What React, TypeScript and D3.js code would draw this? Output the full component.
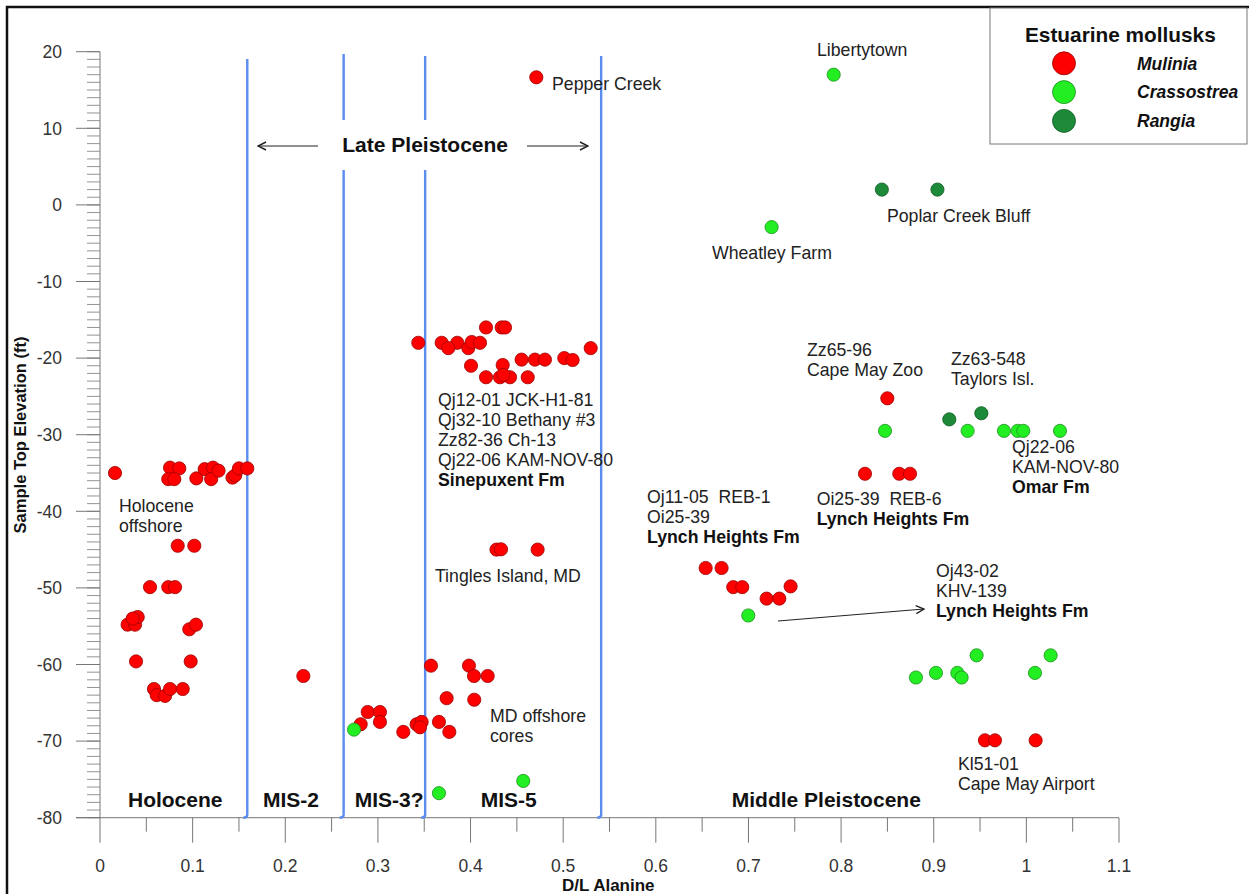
import * as d3 from "d3";

// D/L alanine vs sample top elevation (ft)
const MULINIA: [number, number][] = [
  [0.471, 16.66],
  // Holocene offshore
  [0.0162, -35.0], [0.0756, -34.3], [0.0856, -34.4], [0.0737, -35.8], [0.0802, -35.8],
  [0.104, -35.7], [0.113, -34.5], [0.122, -34.3], [0.12, -35.8], [0.128, -34.7],
  [0.143, -35.6], [0.146, -35.3], [0.15, -34.4], [0.159, -34.4],
  [0.0839, -44.5], [0.1018, -44.5], [0.054, -49.9], [0.0737, -49.9], [0.081, -49.9],
  [0.0298, -54.8], [0.0378, -54.8], [0.0407, -53.8], [0.0353, -54.0], [0.0964, -55.4],
  [0.1036, -54.8], [0.0389, -59.6], [0.0979, -59.6], [0.0583, -63.2], [0.0612, -64.0],
  [0.0702, -64.1], [0.0756, -63.2], [0.0893, -63.2],
  // MIS-2 / MD offshore cores
  [0.2195, -61.5],
  [0.3573, -60.15], [0.3983, -60.15], [0.4037, -61.5], [0.4185, -61.5], [0.3742, -64.4],
  [0.404, -64.6], [0.289, -66.2], [0.3022, -66.2], [0.3022, -67.5], [0.2814, -67.8],
  [0.3274, -68.8], [0.3418, -67.8], [0.3472, -67.5], [0.3454, -68.2], [0.3659, -67.5],
  [0.3771, -68.8],
  // Sinepuxent Fm
  [0.3436, -18.0], [0.3688, -18.0], [0.3857, -18.0], [0.376, -18.7], [0.3976, -18.7],
  [0.4012, -17.9], [0.4102, -18.0], [0.4167, -16.0], [0.4336, -16.0], [0.4372, -16.0],
  [0.4005, -21.0], [0.4347, -20.9], [0.4167, -22.5], [0.4318, -22.5], [0.4426, -22.5],
  [0.4354, -22.2], [0.4617, -22.5], [0.4551, -20.2], [0.4695, -20.2], [0.4803, -20.2],
  [0.5012, -20.0], [0.5102, -20.25], [0.5297, -18.7],
  // Tingles Island
  [0.428, -45.0], [0.4329, -44.96], [0.4724, -45.0],
  // Middle Pleistocene
  [0.6538, -47.4], [0.671, -47.4], [0.6836, -49.9], [0.6933, -49.9], [0.7455, -49.8],
  [0.7196, -51.4], [0.7333, -51.4], [0.9553, -69.9], [0.9661, -69.9], [1.01, -69.9],
  [0.8499, -25.25], [0.8258, -35.1], [0.8628, -35.1], [0.8744, -35.1],
];

const CRASSOSTREA: [number, number][] = [
  [0.792, 17.0], [0.725, -2.9], [0.2742, -68.5], [0.3659, -76.8], [0.4569, -75.2],
  [0.6998, -53.6], [0.9463, -58.8], [1.0262, -58.8], [0.8808, -61.7], [0.9024, -61.1],
  [0.9255, -61.1], [0.9301, -61.7], [1.0093, -61.1], [0.8474, -29.5], [0.9366, -29.5],
  [0.9758, -29.5], [0.9906, -29.5], [0.9967, -29.5], [1.0363, -29.5],
];

const RANGIA: [number, number][] = [
  [0.844, 2.0], [0.904, 2.0], [0.9168, -28.0], [0.9514, -27.2],
];

const X_TICKS = [0, 0.1, 0.2, 0.3, 0.4, 0.5, 0.6, 0.7, 0.8, 0.9, 1, 1.1];
const Y_TICKS = [20, 10, 0, -10, -20, -30, -40, -50, -60, -70, -80];

// stage boundaries: [D/L value, top elevation, gap start, gap end]
const BOUNDARIES: [number, number, number | null, number | null][] = [
  [0.159, 19.05, null, null],
  [0.263, 19.7, 11.07, 4.55],
  [0.351, 19.45, 11.07, 4.55],
  [0.541, 19.45, null, null],
];

const NB = "\u00a0\u00a0";

// annotations: [x, y, lines, bold last line]
const NOTES: [number, number, string[], boolean][] = [
  [0.488, 15.0, ["Pepper Creek"], false],
  [0.774, 19.44, ["Libertytown"], false],
  [0.8495, -2.23, ["Poplar Creek Bluff"], false],
  [0.6606, -7.07, ["Wheatley Farm"], false],
  [0.7632, -19.73, ["Zz65-96", "Cape May Zoo"], false],
  [0.9186, -20.9, ["Zz63-548", "Taylors Isl."], false],
  [0.9845, -32.4, ["Qj22-06", "KAM-NOV-80", "Omar Fm"], true],
  [0.7736, -39.2, ["Oi25-39" + NB + "REB-6", "Lynch Heights Fm"], true],
  [0.5905, -38.9, ["Oj11-05" + NB + "REB-1", "Oi25-39", "Lynch Heights Fm"], true],
  [0.3649, -26.2, ["Qj12-01 JCK-H1-81", "Qj32-10 Bethany #3", "Zz82-36 Ch-13", "Qj22-06 KAM-NOV-80", "Sinepuxent Fm"], true],
  [0.3616, -49.2, ["Tingles Island, MD"], false],
  [0.0205, -40.1, ["Holocene", "offshore"], false],
  [0.421, -67.5, ["MD offshore", "cores"], false],
  [0.9024, -48.6, ["Oj43-02", "KHV-139", "Lynch Heights Fm"], true],
  [0.9262, -73.8, ["Kl51-01", "Cape May Airport"], false],
];

const STAGES: [number, string][] = [
  [0.0302, "Holocene"],
  [0.176, "MIS-2"],
  [0.275, "MIS-3?"],
  [0.411, "MIS-5"],
  [0.682, "Middle Pleistocene"],
];

const LEGEND: [string, string, string][] = [
  ["Mulinia", "#ff0000", "#9a0000"],
  ["Crassostrea", "#22ee22", "#1f8f1f"],
  ["Rangia", "#1d8a3a", "#0f5a22"],
];

const FONT = "'Liberation Sans', Arial, sans-serif";
const W = 1249;
const H = 894;

export default function App() {
  const x = d3.scaleLinear().domain([0, 1.1]).range([100, 1119]);
  const y = d3.scaleLinear().domain([20, -80]).range([51.7, 817.7]);
  const minorY = d3.range(-80, 21, 1);
  const minorX = d3.range(0.05, 1.1, 0.1);
  const blue = "#5b8def";

  const dot = (pts: [number, number][], fill: string, stroke: string) =>
    pts.map((p, i) => (
      <circle key={fill + i} cx={x(p[0])} cy={y(p[1])} r={6.6} fill={fill} stroke={stroke} strokeWidth={0.8} />
    ));

  return (
    <div style={{ position: "absolute", left: 0, top: 0 }}>
      <svg width={W} height={H} style={{ display: "block", background: "#fff" }} fontFamily={FONT}>
        <defs>
          <marker id="head" viewBox="0 0 10 10" refX="9" refY="5" markerWidth="10" markerHeight="10" orient="auto-start-reverse" markerUnits="userSpaceOnUse">
            <path d="M1,1 L9,5 L1,9" fill="none" stroke="#222" strokeWidth={1.4} />
          </marker>
        </defs>
        <rect x={7} y={7} width={W + 20} height={H + 20} fill="none" stroke="#111" strokeWidth={2.5} />

        {/* y axis */}
        <line x1={100} x2={100} y1={y(20)} y2={y(-80)} stroke="#777" strokeWidth={1} />
        {minorY.map((v) => (
          <line key={"my" + v} x1={87} x2={100} y1={y(v)} y2={y(v)} stroke="#888" strokeWidth={0.9} />
        ))}
        {Y_TICKS.map((v) => (
          <g key={"y" + v}>
            <line x1={76} x2={100} y1={y(v)} y2={y(v)} stroke="#777" strokeWidth={1} />
            <text x={62} y={y(v)} dy="0.36em" textAnchor="end" fontSize={17.5} fill="#333">
              {v}
            </text>
          </g>
        ))}

        {/* x axis */}
        <line x1={76} x2={x(1.1)} y1={y(-80)} y2={y(-80)} stroke="#777" strokeWidth={1} />
        {minorX.map((v) => (
          <line key={"mx" + v} x1={x(v)} x2={x(v)} y1={y(-80)} y2={y(-80) + 14} stroke="#777" strokeWidth={1} />
        ))}
        {X_TICKS.map((v) => (
          <g key={"x" + v}>
            <line x1={x(v)} x2={x(v)} y1={y(-80)} y2={y(-80) + 25} stroke="#777" strokeWidth={1} />
            <text x={x(v)} y={872} textAnchor="middle" fontSize={17.5} fill="#333">
              {String(v)}
            </text>
          </g>
        ))}

        <text x={562} y={891} fontSize={17} fontWeight="bold" fill="#111">
          D/L Alanine
        </text>
        <text transform={`translate(26,435) rotate(-90)`} textAnchor="middle" fontSize={16.5} fontWeight="bold" fill="#111">
          Sample Top Elevation (ft)
        </text>

        {/* stage boundaries */}
        {BOUNDARIES.map(([bx, top, g0, g1], i) => {
          const px = x(bx);
          const bottom = y(-80);
          const d =
            g0 === null || g1 === null
              ? `M${px},${y(top)} L${px},${bottom - 3} Q${px},${bottom} ${px - 4},${bottom}`
              : `M${px},${y(top)} L${px},${y(g0)} M${px},${y(g1)} L${px},${bottom - 3} Q${px},${bottom} ${px - 4},${bottom}`;
          return <path key={"b" + i} d={d} fill="none" stroke={blue} strokeWidth={2.4} />;
        })}

        <text x={x(0.351)} y={y(6.9)} textAnchor="middle" fontSize={21} fontWeight="bold" fill="#111">
          Late Pleistocene
        </text>
        <line x1={318} x2={258} y1={146} y2={146} stroke="#222" strokeWidth={1} markerEnd="url(#head)" />
        <line x1={527} x2={588} y1={146} y2={146} stroke="#222" strokeWidth={1} markerEnd="url(#head)" />
        <line x1={778} x2={924} y1={621} y2={609} stroke="#222" strokeWidth={1} markerEnd="url(#head)" />

        {/* points */}
        {dot(MULINIA, LEGEND[0][1], LEGEND[0][2])}
        {dot(CRASSOSTREA, LEGEND[1][1], LEGEND[1][2])}
        {dot(RANGIA, LEGEND[2][1], LEGEND[2][2])}

        {/* annotations */}
        {NOTES.map(([nx, ny, lines, bold], i) => (
          <text key={"n" + i} x={x(nx)} y={y(ny)} fontSize={17.7} fill="#222">
            {lines.map((l, j) => (
              <tspan key={j} x={x(nx)} dy={j === 0 ? 0 : 20} fontWeight={bold && j === lines.length - 1 ? "bold" : "normal"} fill={bold && j === lines.length - 1 ? "#111" : "#222"}>
                {l}
              </tspan>
            ))}
          </text>
        ))}

        {STAGES.map(([sx, label]) => (
          <text key={label} x={x(sx)} y={y(-78.6)} fontSize={21} fontWeight="bold" fill="#111">
            {label}
          </text>
        ))}

        {/* legend */}
        <rect x={990} y={8} width={257} height={136} fill="#fff" stroke="#777" strokeWidth={1} />
        <text x={1025} y={41.5} fontSize={20.8} fontWeight="bold" fill="#111">
          Estuarine mollusks
        </text>
        {LEGEND.map(([name, fill, stroke], i) => (
          <g key={name}>
            <circle cx={1064} cy={63.3 + i * 28.8} r={11.5} fill={fill} stroke={stroke} strokeWidth={0.8} />
            <text x={1137} y={63.3 + i * 28.8} dy="0.36em" fontSize={17.5} fontWeight="bold" fontStyle="italic" fill="#111">
              {name}
            </text>
          </g>
        ))}
      </svg>
    </div>
  );
}
